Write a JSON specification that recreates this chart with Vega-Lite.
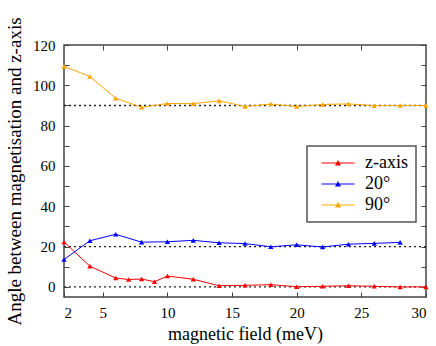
{
  "$schema": "https://vega.github.io/schema/vega-lite/v6.json",
  "width": 362,
  "height": 252,
  "autosize": "none",
  "padding": {"left": 64, "top": 45, "right": 10, "bottom": 49},
  "background": "white",
  "config": {
    "font": "Liberation Serif",
    "view": {"stroke": "#444", "strokeWidth": 1.5},
    "axis": {
      "grid": false,
      "domain": false,
      "tickColor": "#444",
      "tickWidth": 1,
      "labelColor": "black",
      "labelFont": "Liberation Serif",
      "labelFontSize": 14,
      "titleFont": "Liberation Serif",
      "titleFontSize": 18,
      "titleFontWeight": "normal",
      "titleColor": "black"
    }
  },
  "layer": [
    {
      "data": {"values": [{"ref": 0}, {"ref": 20}, {"ref": 90}]},
      "mark": {"type": "rule", "strokeDash": [2, 3], "color": "#222", "strokeWidth": 1.3},
      "encoding": {
        "x": {
          "datum": 2,
          "type": "quantitative",
          "scale": {"domain": [2, 30], "nice": false, "zero": false},
          "axis": {"orient": "top", "values": [5, 10, 15, 20, 25], "labels": false, "title": null, "tickSize": -5}
        },
        "x2": {"datum": 30},
        "y": {
          "field": "ref",
          "type": "quantitative",
          "scale": {"domain": [-5, 120], "nice": false, "zero": false},
          "axis": {
            "orient": "right",
            "values": [0, 10, 20, 30, 40, 50, 60, 70, 80, 90, 100, 110, 120],
            "labels": false,
            "title": null,
            "tickSize": -5,
            "encode": {"ticks": {"update": {"x2": {"signal": "datum.value % 20 === 0 ? -5 : -3"}}}}
          }
        }
      }
    },
    {
      "data": {
        "values": [
          {"field": 2, "angle": 22.3, "series": "z-axis"},
          {"field": 4, "angle": 10.3, "series": "z-axis"},
          {"field": 6, "angle": 4.4, "series": "z-axis"},
          {"field": 7, "angle": 3.7, "series": "z-axis"},
          {"field": 8, "angle": 3.9, "series": "z-axis"},
          {"field": 9, "angle": 2.6, "series": "z-axis"},
          {"field": 10, "angle": 5.4, "series": "z-axis"},
          {"field": 12, "angle": 3.8, "series": "z-axis"},
          {"field": 14, "angle": 0.6, "series": "z-axis"},
          {"field": 16, "angle": 0.8, "series": "z-axis"},
          {"field": 18, "angle": 1.1, "series": "z-axis"},
          {"field": 20, "angle": 0.1, "series": "z-axis"},
          {"field": 22, "angle": 0.3, "series": "z-axis"},
          {"field": 24, "angle": 0.6, "series": "z-axis"},
          {"field": 26, "angle": 0.3, "series": "z-axis"},
          {"field": 28, "angle": 0.0, "series": "z-axis"},
          {"field": 30, "angle": 0.0, "series": "z-axis"},
          {"field": 2, "angle": 13.6, "series": "20°"},
          {"field": 4, "angle": 22.9, "series": "20°"},
          {"field": 6, "angle": 26.1, "series": "20°"},
          {"field": 8, "angle": 22.2, "series": "20°"},
          {"field": 10, "angle": 22.4, "series": "20°"},
          {"field": 12, "angle": 23.1, "series": "20°"},
          {"field": 14, "angle": 21.9, "series": "20°"},
          {"field": 16, "angle": 21.5, "series": "20°"},
          {"field": 18, "angle": 19.9, "series": "20°"},
          {"field": 20, "angle": 20.9, "series": "20°"},
          {"field": 22, "angle": 19.8, "series": "20°"},
          {"field": 24, "angle": 21.2, "series": "20°"},
          {"field": 26, "angle": 21.6, "series": "20°"},
          {"field": 28, "angle": 22.1, "series": "20°"},
          {"field": 2, "angle": 109.4, "series": "90°"},
          {"field": 4, "angle": 104.4, "series": "90°"},
          {"field": 6, "angle": 93.6, "series": "90°"},
          {"field": 8, "angle": 89.1, "series": "90°"},
          {"field": 10, "angle": 91.0, "series": "90°"},
          {"field": 12, "angle": 90.9, "series": "90°"},
          {"field": 14, "angle": 92.3, "series": "90°"},
          {"field": 16, "angle": 89.5, "series": "90°"},
          {"field": 18, "angle": 90.7, "series": "90°"},
          {"field": 20, "angle": 89.5, "series": "90°"},
          {"field": 22, "angle": 90.5, "series": "90°"},
          {"field": 24, "angle": 90.8, "series": "90°"},
          {"field": 26, "angle": 89.9, "series": "90°"},
          {"field": 28, "angle": 90.0, "series": "90°"},
          {"field": 30, "angle": 90.0, "series": "90°"}
        ]
      },
      "mark": {
        "type": "line",
        "strokeWidth": 1,
        "point": {"filled": true, "shape": "triangle-up", "size": 28}
      },
      "encoding": {
        "x": {
          "field": "field",
          "type": "quantitative",
          "scale": {"domain": [2, 30], "nice": false, "zero": false},
          "axis": {
            "orient": "bottom",
            "values": [2, 5, 10, 15, 20, 25, 30],
            "title": "magnetic field (meV)",
            "labelFont": "Liberation Serif",
            "labelFontSize": 15,
            "titleFont": "Liberation Serif",
            "tickSize": -5,
            "labelPadding": 13,
            "titlePadding": 5
          }
        },
        "y": {
          "field": "angle",
          "type": "quantitative",
          "scale": {"domain": [-5, 120], "nice": false, "zero": false},
          "axis": {
            "orient": "left",
            "values": [0, 10, 20, 30, 40, 50, 60, 70, 80, 90, 100, 110, 120],
            "labelExpr": "datum.value % 20 === 0 ? datum.label : ''",
            "title": "Angle between magnetisation and z-axis",
            "labelFont": "Liberation Serif",
            "labelFontSize": 15,
            "titleFont": "Liberation Serif",
            "titleFontSize": 19,
            "tickSize": -5,
            "labelPadding": 14,
            "titlePadding": 8,
            "encode": {"ticks": {"update": {"x2": {"signal": "datum.value % 20 === 0 ? 5 : 3"}}}}
          }
        },
        "color": {
          "field": "series",
          "type": "nominal",
          "scale": {"domain": ["z-axis", "20°", "90°"], "range": ["#ff0000", "#0000ff", "#ffa500"]},
          "legend": {
            "orient": "none",
            "legendX": 243,
            "legendY": 101,
            "title": null,
            "padding": 8,
            "strokeColor": "#555",
            "fillColor": "white",
            "symbolType": "M-3.3,-0.12H3.3V0.12H-3.3ZM0,-0.6L0.6,0.5H-0.6Z",
            "symbolSize": 100,
            "symbolStrokeWidth": 0,
            "symbolOffset": 14,
            "labelOffset": 18,
            "labelFont": "Liberation Serif",
            "labelFontSize": 18,
            "labelColor": "black",
            "rowPadding": 3,
            "encode": {
              "symbols": {"update": {"fill": {"signal": "scale('color', datum.value)"}, "fillOpacity": {"value": 1}, "stroke": {"value": "transparent"}}},
              "legend": {"update": {"strokeWidth": {"value": 1.5}}}
            }
          }
        }
      }
    }
  ],
  "resolve": {"axis": {"x": "independent", "y": "independent"}}
}
